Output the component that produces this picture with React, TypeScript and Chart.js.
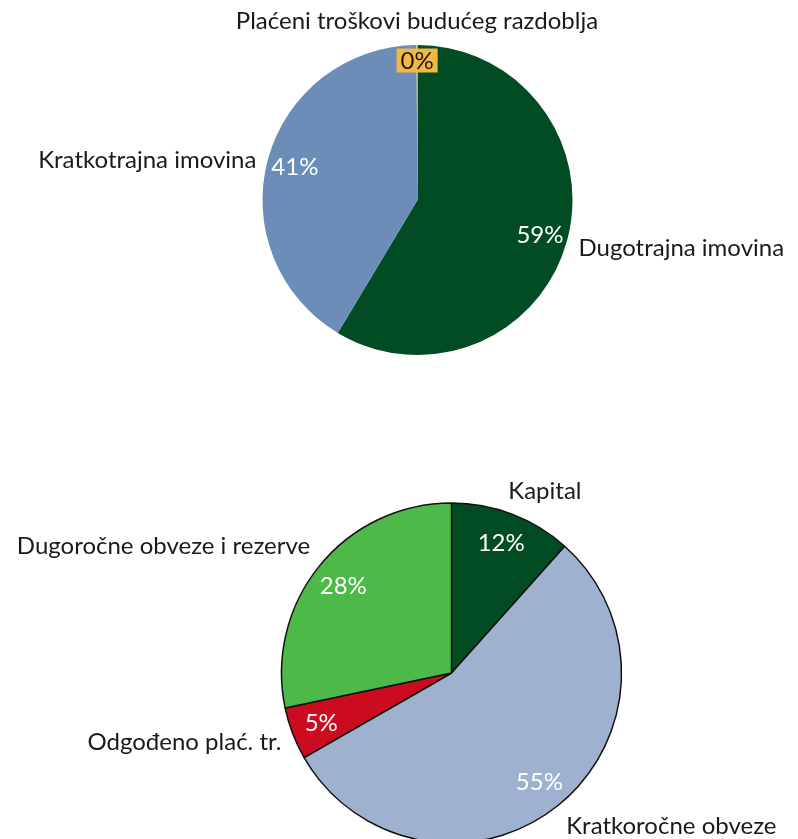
import React, { useEffect, useRef } from "react";
import { Chart, registerables } from "chart.js";

Chart.register(...registerables);

const assetLabels = ["Dugotrajna imovina", "Kratkotrajna imovina", "Plaćeni troškovi budućeg razdoblja"];
const assetValues = [58.6, 41.3, 0.1];
const assetColors = ["#024C23", "#6D8DB9", "#F3B843"];

const liabLabels = ["Kapital", "Kratkoročne obveze", "Odgođeno plać. tr.", "Dugoročne obveze i rezerve"];
const liabValues = [11.6, 55.1, 5.0, 28.3];
const liabColors = ["#024C23", "#9EB1CF", "#CC0B21", "#4CB948"];

const FONT = "Lato, 'Open Sans', sans-serif";
const FS = 24;

const labelPlugin = {
  id: "pieLabels",
  afterDatasetsDraw(chart: any) {
    const ctx = chart.ctx;
    const meta = chart.getDatasetMeta(0);
    const data = chart.data.datasets[0].data as number[];
    const total = data.reduce((a, b) => a + b, 0);
    const labels = chart.data.labels as string[];
    const special: number[] = chart.options.plugins.pieLabels?.boxed || [];
    ctx.save();
    ctx.font = `${FS}px ${FONT}`;
    meta.data.forEach((arc: any, i: number) => {
      const { x, y, startAngle, endAngle, outerRadius } = arc.getProps(
        ["x", "y", "startAngle", "endAngle", "outerRadius"],
        true
      );
      const mid = (startAngle + endAngle) / 2;
      const cos = Math.cos(mid);
      const sin = Math.sin(mid);
      const pct = Math.round((data[i] / total) * 100) + "%";
      const pr = special.includes(i) ? outerRadius * 0.9 : outerRadius * 0.82;
      const px = x + cos * pr;
      const py = y + sin * pr;
      ctx.textAlign = "center";
      ctx.textBaseline = "middle";
      if (special.includes(i)) {
        const w = ctx.measureText(pct).width + 8;
        ctx.fillStyle = assetColors[2];
        ctx.fillRect(px - w / 2, py - 12, w, 24);
        ctx.fillStyle = "#1a1a1a";
      } else {
        ctx.fillStyle = "#ffffff";
      }
      ctx.fillText(pct, px, py + 1);
      const gap = 12;
      const lx = x + cos * (outerRadius + gap);
      const ly = y + sin * (outerRadius + gap);
      ctx.textAlign = cos > 0.3 ? "left" : cos < -0.3 ? "right" : "center";
      ctx.textBaseline = sin < -0.5 ? "bottom" : sin > 0.5 ? "top" : "middle";
      ctx.fillStyle = "#1a1a1a";
      const shiftX = cos > 0.3 && sin < -0.5 ? -8 : 0;
      ctx.fillText(labels[i], lx + shiftX, ly + (Math.abs(sin) <= 0.5 ? 4 : 0));
    });
    ctx.restore();
  },
};

function PieCanvas(props: {
  labels: string[];
  values: number[];
  colors: string[];
  border: number;
  width: number;
  height: number;
  top: number;
  padding: { left: number; right: number; top: number; bottom: number };
  boxed: number[];
}) {
  const ref = useRef<HTMLCanvasElement | null>(null);
  useEffect(() => {
    if (!ref.current) return;
    const chart = new Chart(ref.current, {
      type: "pie",
      data: {
        labels: props.labels,
        datasets: [
          {
            data: props.values,
            backgroundColor: props.colors,
            borderColor: "#111111",
            borderWidth: props.border,
          },
        ],
      },
      options: {
        responsive: false,
        animation: false,
        layout: { padding: props.padding },
        plugins: {
          legend: { display: false },
          tooltip: { enabled: false },
          // @ts-ignore
          pieLabels: { boxed: props.boxed },
        },
      },
      plugins: [labelPlugin],
    } as any);
    return () => chart.destroy();
  }, []);
  return (
    <canvas
      ref={ref}
      width={props.width}
      height={props.height}
      style={{ position: "absolute", left: 0, top: props.top, width: props.width, height: props.height }}
    />
  );
}

export default function App() {
  return (
    <div
      style={{
        position: "fixed",
        left: 0,
        top: 0,
        width: 798,
        height: 839,
        overflow: "hidden",
        background: "#ffffff",
      }}
    >
      <PieCanvas
        labels={assetLabels}
        values={assetValues}
        colors={assetColors}
        border={0}
        width={798}
        height={420}
        top={0}
        padding={{ left: 262.5, right: 225.5, top: 45, bottom: 65 }}
        boxed={[2]}
      />
      <PieCanvas
        labels={liabLabels}
        values={liabValues}
        colors={liabColors}
        border={1.5}
        width={798}
        height={480}
        top={420}
        padding={{ left: 280.75, right: 175.75, top: 81.75, bottom: 55.75 }}
        boxed={[]}
      />
    </div>
  );
}
